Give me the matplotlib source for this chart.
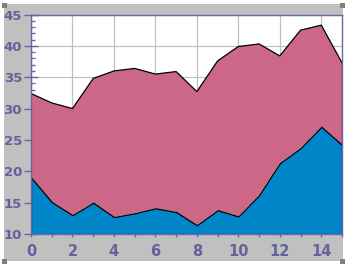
import numpy as np
import matplotlib
matplotlib.use('Agg')
import matplotlib.pyplot as plt
from matplotlib.patches import Rectangle
from matplotlib.ticker import MultipleLocator

# datos
x = list(range(16))
serie_azul = [19.0, 15.1, 13.0, 15.0, 12.7, 13.3, 14.1, 13.5, 11.4, 13.8, 12.8, 16.2, 21.3, 23.7, 27.1, 24.2]
serie_total = [32.4, 30.9, 30.0, 34.8, 36.0, 36.4, 35.5, 35.9, 32.7, 37.6, 39.9, 40.3, 38.4, 42.5, 43.3, 37.3]
x_ticks = [0, 2, 4, 6, 8, 10, 12, 14]
y_ticks = [10, 15, 20, 25, 30, 35, 40, 45]

W, H = 347, 265
fig = plt.figure(figsize=(W / 100, H / 100), dpi=100, facecolor='white')

# panel gris de fondo
fig.patches.append(Rectangle((4 / W, 1 - 261 / H), 339 / W, 257 / H, transform=fig.transFigure,
                             facecolor='#c0c0c0', edgecolor='none', zorder=0))
# cuadritos de las esquinas
for cx, cy in [(4.5, 5), (342.5, 5), (4.5, 261), (342.5, 261)]:
    fig.patches.append(Rectangle(((cx - 2.5) / W, 1 - (cy + 2.5) / H), 5 / W, 5 / H,
                                 transform=fig.transFigure, facecolor='#808080',
                                 edgecolor='none', zorder=1))

ax = fig.add_axes([31 / W, 1 - 234 / H, 311 / W, 219.5 / H])
ax.set_zorder(3)
ax.set_facecolor('white')

ax.fill_between(x, 0, serie_azul, facecolor='#0086c8', edgecolor='black', linewidth=0.9, zorder=3)
ax.fill_between(x, serie_azul, serie_total, facecolor='#cc6787', edgecolor='none', zorder=2)
ax.plot(x, serie_total, color='black', linewidth=0.9, zorder=4)
ax.plot([15, 15], [serie_azul[-1], serie_total[-1]], color='black', linewidth=0.9, zorder=4)

ax.set_xlim(0, 15)
ax.set_ylim(10, 45)
ax.set_xticks(x_ticks)
ax.set_yticks(y_ticks)
ax.xaxis.set_minor_locator(MultipleLocator(1))
ax.yaxis.set_minor_locator(MultipleLocator(1))
ax.grid(True, which='major', color='#c0c0c0', linewidth=0.9, zorder=1)
ax.set_axisbelow(True)

c_eje = '#6666a8'
for s in ax.spines.values():
    s.set_color(c_eje)
    s.set_linewidth(1.0)
    s.set_zorder(5)

ax.tick_params(axis='y', which='major', direction='inout', length=10, width=1, color=c_eje,
               labelcolor='#62629c', labelsize=9.5, pad=1.5)
ax.tick_params(axis='y', which='minor', direction='in', length=3, width=1, color=c_eje)
ax.tick_params(axis='x', which='both', direction='out', length=2.5, width=1, color=c_eje,
               labelcolor='#62629c', labelsize=10.5, pad=5)
for lab in ax.get_xticklabels() + ax.get_yticklabels():
    lab.set_fontweight('bold')

fig.savefig('out.png', dpi=100, facecolor='white')
